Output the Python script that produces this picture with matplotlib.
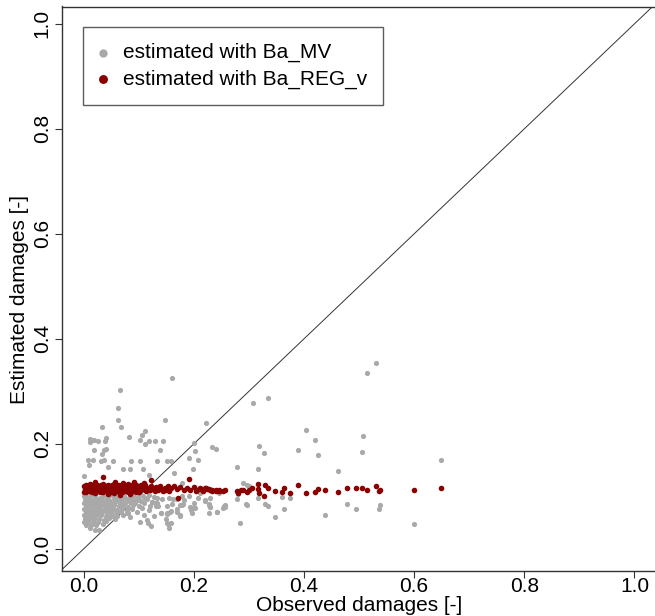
import matplotlib
matplotlib.use("Agg")
import matplotlib.pyplot as plt

plt.rcParams['font.family'] = ['Liberation Sans', 'DejaVu Sans']

# ---- data: estimated with Ba_MV (grey) ----
mv_x = [
    0.067, 0.062, 0.160, 0.307, 0.335, 0.514, 0.530,
    0.062, 0.068, 0.034,
    0.011, 0.019, 0.026, 0.011, 0.040, 0.039,
    0.038, 0.040, 0.019, 0.034,
    0.008, 0.018, 0.031, 0.037, 0.054, 0.010, 0.045,
    0.083, 0.103, 0.111, 0.107, 0.118, 0.130, 0.145,
    0.148, 0.138, 0.111,
    0.087, 0.103, 0.134, 0.151,
    0.072, 0.085, 0.108,
    0.159, 0.165, 0.200, 0.223, 0.207, 0.199,
    0.234, 0.240, 0.319, 0.328, 0.279, 0.316, 0.390,
    0.404, 0.421, 0.426, 0.507, 0.506, 0.648, 0.462,
    0.289, 0.297, 0.301,
    0.203, 0.191, 0.179, 0.001, 0.119,
    # lower scattered
    0.011, 0.020, 0.028, 0.004, 0.007,
    0.036, 0.052, 0.078, 0.085, 0.097, 0.117, 0.103, 0.152, 0.156, 0.141, 0.151,
    0.169, 0.176, 0.180, 0.169, 0.175, 0.200, 0.201, 0.195,
    0.130, 0.136, 0.121, 0.134, 0.227, 0.255,
    0.212, 0.220, 0.229, 0.228, 0.229, 0.228, 0.243, 0.256, 0.256,
    0.279, 0.297, 0.284, 0.317, 0.330, 0.335, 0.348, 0.361, 0.364, 0.374,
    0.438, 0.479, 0.495, 0.536, 0.539, 0.600,
    0.155, 0.162, 0.170, 0.178, 0.182, 0.191, 0.208, 0.221, 0.245,
    0.160, 0.179, 0.193, 0.203, 0.230, 0.254, 0.242,
    0.151, 0.158, 0.170, 0.176, 0.196, 0.149, 0.154,
    0.281, 0.294,
    0.100, 0.112, 0.125, 0.134, 0.143, 0.152, 0.106, 0.118, 0.131, 0.140,
    0.109, 0.128, 0.157, 0.115, 0.158, 0.122,
    # dense cluster
    0.000, 0.007, 0.014, 0.021, 0.029, 0.036, 0.044, 0.051, 0.059, 0.066, 0.074, 0.082, 0.090, 0.098, 0.108, 0.118, 0.127,
    0.003, 0.010, 0.018, 0.025, 0.032, 0.040, 0.047, 0.055, 0.063, 0.070, 0.079, 0.087, 0.095, 0.104, 0.115,
    0.000, 0.006, 0.013, 0.021, 0.028, 0.035, 0.043, 0.050, 0.058, 0.066, 0.075, 0.084, 0.093, 0.110, 0.125,
    0.004, 0.011, 0.018, 0.026, 0.033, 0.041, 0.048, 0.056, 0.064, 0.072, 0.081, 0.090, 0.100,
    0.001, 0.008, 0.015, 0.022, 0.030, 0.037, 0.045, 0.053, 0.061, 0.069, 0.078, 0.088,
    0.004, 0.011, 0.019, 0.026, 0.034, 0.042, 0.050, 0.059, 0.068, 0.080,
    0.000, 0.007, 0.015, 0.023, 0.031, 0.040, 0.049, 0.060, 0.072,
    0.003, 0.011, 0.019, 0.028, 0.038, 0.047, 0.058,
    0.001, 0.009, 0.018, 0.027, 0.040,
    0.004, 0.013, 0.022,
]
mv_y = [
    0.302, 0.268, 0.325, 0.278, 0.288, 0.335, 0.355,
    0.246, 0.232, 0.232,
    0.209, 0.208, 0.206, 0.204, 0.211, 0.206,
    0.189, 0.190, 0.189, 0.181,
    0.170, 0.170, 0.168, 0.170, 0.167, 0.159, 0.156,
    0.213, 0.208, 0.225, 0.217, 0.206, 0.206, 0.206,
    0.246, 0.189, 0.200,
    0.167, 0.167, 0.167, 0.167,
    0.152, 0.152, 0.152,
    0.168, 0.144, 0.202, 0.239, 0.170, 0.152,
    0.195, 0.190, 0.196, 0.183, 0.157, 0.153, 0.189,
    0.227, 0.208, 0.178, 0.216, 0.185, 0.169, 0.149,
    0.126, 0.121, 0.120,
    0.187, 0.173, 0.126, 0.139, 0.141,
    # lower scattered
    0.039, 0.036, 0.036, 0.055, 0.049,
    0.048, 0.063, 0.068, 0.060, 0.071, 0.049, 0.051, 0.049, 0.039, 0.069, 0.069,
    0.096, 0.084, 0.086, 0.071, 0.063, 0.088, 0.080, 0.075,
    0.088, 0.081, 0.082, 0.097, 0.085, 0.081,
    0.106, 0.092, 0.098, 0.084, 0.080, 0.068, 0.071, 0.084, 0.079,
    0.095, 0.084, 0.050, 0.097, 0.086, 0.081, 0.060, 0.099, 0.076, 0.098,
    0.065, 0.085, 0.077, 0.076, 0.084, 0.047,
    0.097, 0.095, 0.095, 0.100, 0.093, 0.100, 0.098, 0.093, 0.107,
    0.086, 0.084, 0.079, 0.078, 0.079, 0.078, 0.071,
    0.067, 0.073, 0.076, 0.065, 0.068, 0.057, 0.048,
    0.104, 0.085,
    0.093, 0.097, 0.090, 0.087, 0.095, 0.081, 0.078, 0.074, 0.081, 0.068,
    0.065, 0.062, 0.071, 0.055, 0.049, 0.043,
    # dense cluster
    0.101, 0.099, 0.102, 0.100, 0.098, 0.101, 0.100, 0.102, 0.099, 0.101, 0.100, 0.098, 0.101, 0.099, 0.100, 0.102, 0.099,
    0.094, 0.095, 0.093, 0.094, 0.096, 0.093, 0.094, 0.095, 0.093, 0.094, 0.095, 0.093, 0.094, 0.092, 0.095,
    0.088, 0.087, 0.089, 0.088, 0.087, 0.089, 0.088, 0.087, 0.089, 0.088, 0.087, 0.089, 0.088, 0.087, 0.089,
    0.082, 0.083, 0.081, 0.082, 0.083, 0.081, 0.082, 0.083, 0.081, 0.082, 0.080, 0.083, 0.082,
    0.076, 0.077, 0.075, 0.076, 0.077, 0.075, 0.076, 0.077, 0.075, 0.076, 0.074, 0.077,
    0.070, 0.071, 0.069, 0.070, 0.071, 0.069, 0.070, 0.068, 0.071, 0.069,
    0.064, 0.065, 0.063, 0.064, 0.065, 0.063, 0.064, 0.062, 0.065,
    0.058, 0.059, 0.057, 0.058, 0.056, 0.059, 0.057,
    0.052, 0.053, 0.051, 0.052, 0.053,
    0.046, 0.045, 0.046,
]

# ---- data: estimated with Ba_REG_v (dark red) ----
reg_x = [
    0.000, 0.004, 0.008, 0.012, 0.016, 0.020, 0.024, 0.028, 0.032, 0.036, 0.040, 0.044, 0.048,
    0.052, 0.056, 0.060, 0.064, 0.068, 0.072, 0.076, 0.080, 0.084, 0.088, 0.092, 0.096, 0.100,
    0.002, 0.006, 0.010, 0.014, 0.018, 0.022, 0.026, 0.030, 0.034, 0.038, 0.042, 0.046, 0.050, 0.054,
    0.058, 0.062, 0.066, 0.070, 0.074, 0.078, 0.082, 0.086, 0.090, 0.094, 0.098, 0.102, 0.106, 0.110,
    0.000, 0.005, 0.010, 0.015, 0.020, 0.025, 0.030, 0.035, 0.040, 0.045, 0.050, 0.055, 0.060,
    0.065, 0.070, 0.075, 0.080, 0.085, 0.090, 0.095, 0.100,
    0.036, 0.058, 0.122, 0.071, 0.091, 0.110, 0.020, 0.045, 0.085, 0.066,
    0.104, 0.108, 0.112, 0.114, 0.117, 0.120, 0.123, 0.126, 0.129, 0.132, 0.135, 0.138, 0.141,
    0.144, 0.147, 0.150, 0.153, 0.156, 0.159,
    0.164, 0.170, 0.176, 0.182, 0.188, 0.194, 0.200, 0.205, 0.209, 0.216, 0.223, 0.228,
    0.234, 0.240, 0.246, 0.257, 0.191, 0.171,
    0.212, 0.220, 0.224, 0.229, 0.233, 0.241, 0.245, 0.254,
    0.279, 0.280, 0.285, 0.289, 0.297, 0.300, 0.306, 0.317, 0.317, 0.319, 0.328, 0.330, 0.335,
    0.348, 0.361, 0.364, 0.374, 0.390, 0.404, 0.421, 0.426, 0.438, 0.462, 0.479, 0.495, 0.506,
    0.514, 0.531, 0.536, 0.539, 0.600, 0.648,
]
reg_y = [
    0.120, 0.122, 0.119, 0.123, 0.121, 0.120, 0.122, 0.119, 0.121, 0.123, 0.120, 0.122, 0.119,
    0.121, 0.124, 0.120, 0.122, 0.119, 0.121, 0.120, 0.123, 0.119, 0.121, 0.120, 0.122, 0.119,
    0.115, 0.114, 0.116, 0.115, 0.113, 0.116, 0.114, 0.115, 0.116, 0.113, 0.115, 0.114, 0.116, 0.115,
    0.113, 0.116, 0.114, 0.115, 0.116, 0.113, 0.115, 0.114, 0.116, 0.115, 0.113, 0.116, 0.114, 0.115,
    0.109, 0.108, 0.110, 0.109, 0.107, 0.110, 0.108, 0.109, 0.110, 0.108, 0.109, 0.107, 0.110,
    0.109, 0.108, 0.110, 0.109, 0.107, 0.110, 0.108, 0.109,
    0.137, 0.128, 0.131, 0.126, 0.127, 0.126, 0.127, 0.104, 0.104, 0.103,
    0.121, 0.118, 0.122, 0.110, 0.117, 0.113, 0.120, 0.115, 0.110, 0.118, 0.113, 0.120, 0.114,
    0.110, 0.117, 0.113, 0.119, 0.111, 0.116,
    0.119, 0.114, 0.118, 0.112, 0.116, 0.112, 0.118, 0.111, 0.114, 0.111, 0.117, 0.115,
    0.112, 0.111, 0.112, 0.112, 0.133, 0.098,
    0.116, 0.117, 0.114, 0.113, 0.111, 0.113, 0.111, 0.111,
    0.111, 0.106, 0.113, 0.113, 0.109, 0.113, 0.116, 0.124, 0.114, 0.107, 0.100, 0.122, 0.116,
    0.111, 0.108, 0.117, 0.106, 0.121, 0.107, 0.108, 0.114, 0.113, 0.108, 0.116, 0.116, 0.117,
    0.113, 0.120, 0.111, 0.113, 0.113, 0.116,
]

xticks = [0.0, 0.2, 0.4, 0.6, 0.8, 1.0]
yticks = [0.0, 0.2, 0.4, 0.6, 0.8, 1.0]
tick_labels = ["0.0", "0.2", "0.4", "0.6", "0.8", "1.0"]

W, H = 655, 616
fig = plt.figure(figsize=(W / 100, H / 100), dpi=100)
ax = fig.add_axes([61.5 / W, (H - 570.5) / H, 595 / W, 564 / H])

ax.axline((0, 0), (1, 1), color="#333333", lw=0.7, zorder=1)
ax.scatter(mv_x, mv_y, s=14, color="#A9A9A9", linewidths=0, zorder=2,
           label="estimated with Ba_MV")
ax.scatter(reg_x, reg_y, s=16, color="#8B0000", linewidths=0, zorder=3,
           label="estimated with Ba_REG_v")

ax.set_xlim(-0.04, 1.04)
ax.set_ylim(-0.041, 1.033)
ax.set_xticks(xticks)
ax.set_xticklabels(tick_labels)
ax.set_yticks(yticks)
ax.set_yticklabels(tick_labels, rotation=90, va="center")
ax.tick_params(axis="both", direction="out", length=5, width=0.8,
               color="#333333", labelsize=15, labelcolor="black")
ax.tick_params(axis="x", pad=0)
ax.tick_params(axis="y", pad=2)
for sp in ax.spines.values():
    sp.set_color("#333333")
    sp.set_linewidth(1.0)

ax.set_xlabel("Observed damages [-]", fontsize=15, labelpad=0)
ax.set_ylabel("Estimated damages [-]", fontsize=15)
ax.yaxis.set_label_coords(-0.054, 0.48)

leg = ax.legend(loc="upper left", bbox_to_anchor=(83 / W, 1 - 27 / H),
                bbox_transform=fig.transFigure, borderaxespad=0,
                fontsize=15, markerscale=1.6, frameon=True, fancybox=False,
                borderpad=0.77, handlelength=0.36, handletextpad=0.79,
                labelspacing=0.35, scatterpoints=1)
leg.get_frame().set_edgecolor("#333333")
leg.get_frame().set_linewidth(1.0)

fig.savefig("out.png", dpi=100)
